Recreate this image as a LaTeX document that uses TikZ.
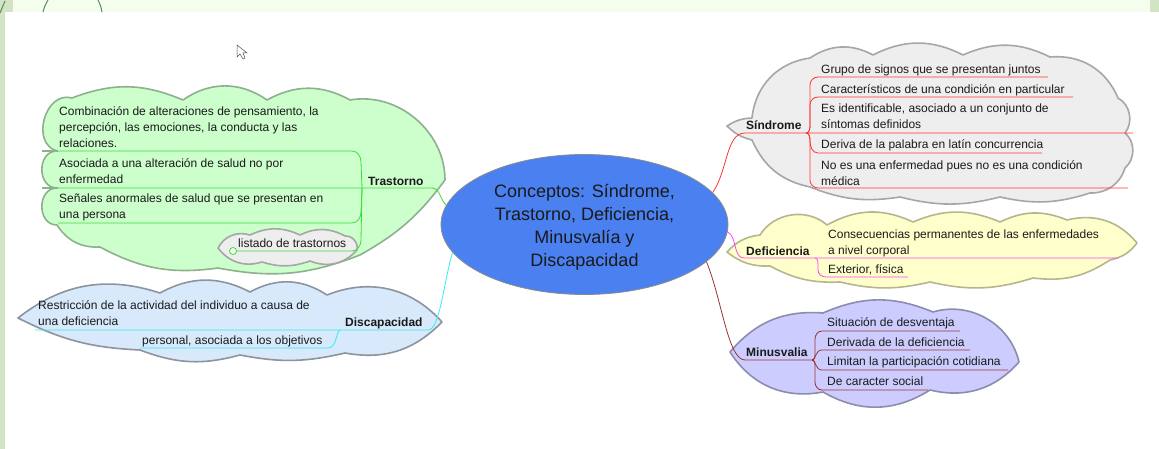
\documentclass[tikz,border=0pt]{standalone}
\usepackage{fontspec}
\setmainfont{Liberation Sans}
\usetikzlibrary{shapes.geometric}
\definecolor{topband}{HTML}{F4FDEE}
\definecolor{strip}{HTML}{D3E4C4}
\definecolor{deco}{HTML}{5A8A62}
\definecolor{tfill}{HTML}{CCFFCC}
\definecolor{tbord}{HTML}{8EB08E}
\definecolor{gfill}{HTML}{EEEEEE}
\definecolor{gbord}{HTML}{A6A6A6}
\definecolor{dfill}{HTML}{D7E9FB}
\definecolor{dbord}{HTML}{8C949E}
\definecolor{ffill}{HTML}{FFFFCC}
\definecolor{fbord}{HTML}{B6B68E}
\definecolor{mfill}{HTML}{CCCCFF}
\definecolor{mbord}{HTML}{8C8CAE}
\definecolor{cfill}{HTML}{4A80F0}
\definecolor{tcol}{HTML}{3ADB3A}
\definecolor{dcol}{HTML}{33EEEE}
\definecolor{scol}{HTML}{FF3333}
\definecolor{fcol}{HTML}{FF44FF}
\definecolor{mcol}{HTML}{993333}
\definecolor{ink}{HTML}{1A1A1A}
\tikzset{
  cloudline/.style={line width=1.6pt, line join=round},
  txt/.style={anchor=north west, inner sep=0pt, align=left, text=ink,
    font=\fontsize{12}{16}\selectfont, execute at begin node=\strut},
  lbl/.style={txt, font=\fontsize{12}{16}\selectfont\bfseries},
  conn/.style={line width=0.8pt},
}
\begin{document}
\begin{tikzpicture}[x=1pt,y=1pt]
\useasboundingbox (0,0) rectangle (1159,-449);
% background frame
\fill[white] (0,0) rectangle (1159,-449);
\fill[topband] (0,0) rectangle (1159,-12);
\fill[strip] (0,0) rectangle (13,-12);
\fill[strip] (0,-12) rectangle (5,-449);
\fill[strip] (1150,0) rectangle (1159,-12);
\draw[deco, line width=1pt] (0,-13) -- (5,-1);
\draw[deco, line width=1pt] (43,-12) to[bend left=8] (48,0);
\draw[deco, line width=1pt] (98,0) to[bend left=8] (102,-12);
% mouse cursor
\draw[black!70, fill=white, line width=0.5pt] (237,-45) -- (237,-57) -- (240,-54) -- (243,-59) -- (245,-58) -- (243,-53) -- (247,-53) -- cycle;

% ---- clouds ----
\filldraw[cloudline, fill=tfill, draw=tbord]
  (57,-188) to[bend left=90, looseness=1.4] (57,-151)
  to[bend left=90, looseness=1.3] (72,-98)
  to[bend left=22] (183,-100) to[bend left=35] (267,-100) to[bend left=29] (350,-100)
  to[bend left=50] (445,-180) to[bend left=12] (360,-255) to[bend left=16] (218,-268)
  to[bend left=18] (100,-247) to[bend left=30] (57,-225)
  to[bend left=90, looseness=1.4] (57,-188) -- cycle;
\draw[tbord, line width=2.2pt] (42,-151) -- (58,-151);
\draw[tbord, line width=2.2pt] (42,-188) -- (58,-188);
\filldraw[cloudline, fill=gfill, draw=gbord]
  (218,-248) to[bend left=40] (250,-235) to[bend left=25] (300,-235) to[bend left=27] (345,-236)
  to[bend left=55] (357,-250) to[bend left=35] (310,-261) to[bend left=18] (262,-262)
  to[bend left=35] (218,-248) -- cycle;
\filldraw[cloudline, fill=dfill, draw=dbord]
  (18,-318) to[bend left=28] (160,-293) to[bend left=28] (250,-292) to[bend left=31] (327,-295)
  to[bend left=35] (442,-322) to[bend left=28] (345,-353) to[bend left=12] (240,-355)
  to[bend left=18] (140,-350) to[bend left=12] (18,-318) -- cycle;
\filldraw[cloudline, fill=gfill, draw=gbord]
  (727,-126) to[bend left=15] (752,-118) to[bend left=38] (810,-58) to[bend left=31] (873,-55)
  to[bend left=27] (963,-55) to[bend left=25] (1050,-57) to[bend left=36] (1118,-98)
  to[bend left=50] (1125,-133) to[bend left=50] (1125,-168) to[bend left=37] (1090,-193)
  to[bend left=15] (1000,-197) to[bend left=14] (900,-197) to[bend left=15] (810,-187)
  to[bend left=27] (752,-140) to[bend left=15] (727,-126) -- cycle;
\filldraw[cloudline, fill=ffill, draw=fbord]
  (727,-252) to[bend left=20] (760,-235) to[bend left=50] (827,-225) to[bend left=27] (913,-222)
  to[bend left=23] (1000,-222) to[bend left=24] (1067,-220) to[bend left=32] (1137,-243)
  to[bend left=20] (1110,-260) to[bend left=20] (1033,-278) to[bend left=15] (930,-282)
  to[bend left=13] (840,-282) to[bend left=15] (770,-266) to[bend left=20] (727,-252) -- cycle;
\filldraw[cloudline, fill=mfill, draw=mbord]
  (730,-352) to[bend left=27] (823,-313) to[bend left=23] (933,-312) to[bend left=47] (1019,-362)
  to[bend left=31] (930,-390) to[bend left=31] (823,-392) to[bend left=34] (730,-352) -- cycle;

% ---- central node ----
\node[ellipse, minimum width=287, minimum height=140, inner sep=0pt, fill=cfill, draw=black!45, line width=0.8pt] (c) at (584.5,-224.5) {};
\node[anchor=north, inner sep=0pt, align=center, text=ink, font=\fontsize{18}{23}\selectfont] (ct) at (584.5,-181)
  {\strut Conceptos: Síndrome,\\Trastorno, Deficiencia,\\Minusvalía y\\Discapacidad};

% ---- Trastorno branch ----
\coordinate (JT) at (362,-188);
\draw[conn, tcol] (58,-151) -- (352,-151) to[out=0,in=90] (361,-162) -- (JT);
\draw[conn, tcol] (58,-188) -- (JT) -- (432,-188) .. controls (440,-188) and (440,-200) .. (c.172.9);
\draw[conn, tcol] (58,-223) -- (352,-223) to[out=0,in=-90] (361,-212) -- (JT);
\draw[conn, tcol] (236.5,-251) -- (352,-251) to[out=0,in=-90] (361,-240) -- (JT);
\draw[conn, tcol, fill=white] (233,-251) circle (3.5);
\node[lbl] (tT) at (368,-174) {Trastorno};
\node[txt] (t1) at (59,-106) {Combinación de alteraciones de pensamiento, la\\percepción, las emociones, la conducta y las\\relaciones.};
\node[txt] (t2) at (59,-158.5) {Asociada a una alteración de salud no por\\enfermedad};
\node[txt] (t3) at (59,-194) {Señales anormales de salud que se presentan en\\una persona};
\node[txt] (t4) at (238,-236) {listado de trastornos};

% ---- Discapacidad branch ----
\coordinate (JD) at (340,-330);
\draw[conn, dcol] (35,-330) -- (428,-330) .. controls (440,-330) and (444,-280) .. (c.192.9);
\draw[conn, dcol] (JD) .. controls (336,-331) and (337,-348) .. (328,-348) -- (140,-348);
\node[lbl] (tD) at (345,-315) {Discapacidad};
\node[txt] (d1) at (38,-300) {Restricción de la actividad del individuo a causa de\\una deficiencia};
\node[txt] (d2) at (142,-333) {personal, asociada a los objetivos};

% ---- Síndrome branch ----
\coordinate (JS) at (806,-133);
\draw[conn, scol] (c.14.7) .. controls (728,-170) and (726,-133) .. (745,-133) -- (JS) -- (1133,-133);
\draw[conn, scol] (JS) to[out=0,in=-90] (810,-125) -- (810,-85) to[out=90,in=180] (818,-77) -- (1048,-77);
\draw[conn, scol] (JS) to[out=0,in=-90] (810,-125) -- (810,-105) to[out=90,in=180] (818,-97) -- (1073,-97);
\draw[conn, scol] (JS) to[out=0,in=90] (810,-141) to[out=-90,in=180] (818,-153) -- (1042,-153);
\draw[conn, scol] (JS) to[out=0,in=90] (810,-141) -- (810,-180) to[out=-90,in=180] (818,-188) -- (1128,-188);
\node[lbl] (tS) at (746,-118) {Síndrome};
\node[txt] (s1) at (821,-62) {Grupo de signos que se presentan juntos};
\node[txt] (s2) at (821,-82) {Característicos de una condición en particular};
\node[txt] (s3) at (821,-104) {Es identificable, asociado a un conjunto de\\síntomas definidos};
\node[txt] (s4) at (821,-137) {Deriva de la palabra en latín concurrencia};
\node[txt] (s5) at (821,-160) {No es una enfermedad pues no es una condición\\médica};

% ---- Deficiencia branch ----
\coordinate (JF) at (815,-258);
\draw[conn, fcol] (c.-3.4) .. controls (737,-236) and (733,-258) .. (744,-258) -- (JF) -- (1118,-258);
\draw[conn, fcol] (JF) to[out=0,in=90] (818,-265) -- (818,-270) to[out=-90,in=180] (826,-277) -- (908,-277);
\node[lbl] (tF) at (746,-244) {Deficiencia};
\node[txt] (f1) at (828,-230) {Consecuencias permanentes de las enfermedades\\a nivel corporal};
\node[txt] (f2) at (828,-262) {Exterior, física};

% ---- Minusvalía branch ----
\coordinate (JM) at (812,-360);
\draw[conn, mcol] (c.-17.4) .. controls (722,-300) and (728,-360) .. (745,-360) -- (JM);
\draw[conn, mcol] (JM) to[out=0,in=-90] (815,-352) -- (815,-339) to[out=90,in=180] (822,-331) -- (960,-331);
\draw[conn, mcol] (JM) .. controls (816,-360) and (815,-350) .. (822,-350) -- (970,-350);
\draw[conn, mcol] (JM) .. controls (816,-360) and (815,-370) .. (822,-370) -- (1008,-370);
\draw[conn, mcol] (JM) to[out=0,in=90] (815,-368) -- (815,-382) to[out=-90,in=180] (822,-390) -- (928,-390);
\node[lbl] (tM) at (746,-345) {Minusvalia};
\node[txt] (m1) at (827,-315) {Situación de desventaja};
\node[txt] (m2) at (827,-335) {Derivada de la deficiencia};
\node[txt] (m3) at (827,-354) {Limitan la participación cotidiana};
\node[txt] (m4) at (827,-374) {De caracter social};
\end{tikzpicture}
\end{document}
